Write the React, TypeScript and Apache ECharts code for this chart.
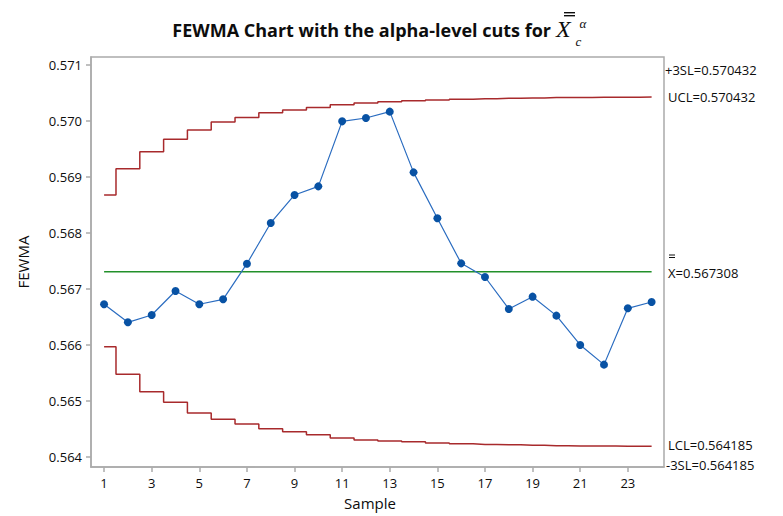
import React, { useEffect, useRef } from "react";
import * as echarts from "echarts";

const samples = [1, 2, 3, 4, 5, 6, 7, 8, 9, 10, 11, 12, 13, 14, 15, 16, 17, 18, 19, 20, 21, 22, 23, 24];
const fewma = [
  0.566727, 0.566405, 0.566536, 0.566964, 0.566727, 0.566816, 0.567452, 0.568179,
  0.568679, 0.568833, 0.569994, 0.570054, 0.570167, 0.569083, 0.568262, 0.567458,
  0.567214, 0.566643, 0.566863, 0.566524, 0.566, 0.565649, 0.566655, 0.566768,
];
const ucl = [
  0.568679, 0.569149, 0.569452, 0.569673, 0.569839, 0.569982, 0.570064, 0.570149,
  0.570195, 0.57024, 0.57029, 0.570321, 0.570343, 0.570362, 0.570375, 0.57039,
  0.570398, 0.570405, 0.57041, 0.570418, 0.570421, 0.570424, 0.570426, 0.570428,
];
const lcl = [
  0.56597, 0.565476, 0.565167, 0.564976, 0.564786, 0.564673, 0.564589, 0.564506,
  0.564452, 0.564399, 0.564339, 0.564304, 0.564286, 0.56427, 0.56425, 0.564235,
  0.564225, 0.564218, 0.56421, 0.564202, 0.564198, 0.564195, 0.564192, 0.56419,
];
const centerLine = 0.567308;
const yTicks = [0.564, 0.565, 0.566, 0.567, 0.568, 0.569, 0.57, 0.571];
const xTicks = [1, 3, 5, 7, 9, 11, 13, 15, 17, 19, 21, 23];
const rightLabels = [
  { text: "+3SL=0.570432", x: 665, y: 70 },
  { text: "UCL=0.570432", x: 668, y: 97 },
  { text: "LCL=0.564185", x: 668, y: 445 },
  { text: "-3SL=0.564185", x: 666, y: 465 },
];
const clLabel = "X=0.567308";
const titleText = "FEWMA Chart with the alpha-level cuts for";

const FONT = "'Open Sans', 'Noto Sans', sans-serif";
const SERIF = "'Liberation Serif', 'DejaVu Serif', serif";
const RED = "#a82a2c";
const GREEN = "#22902a";
const BLUE = "#0852a4";
const GRAY = "#ababab";
const INK = "#0d0d0d";

export default function App() {
  const ref = useRef<HTMLDivElement>(null);
  useEffect(() => {
    document.body.style.margin = "0";
    const chart = echarts.init(ref.current!, null, { renderer: "svg" });
    const pair = (arr: number[]) => samples.map((s, i) => [s, arr[i]]);
    chart.setOption({
      animation: false,
      backgroundColor: "#ffffff",
      grid: {
        left: 91,
        top: 57,
        right: 119,
        bottom: 49,
        show: true,
        borderColor: GRAY,
        borderWidth: 1.5,
        backgroundColor: "transparent",
      },
      xAxis: {
        type: "value",
        min: 0.45,
        max: 24.52,
        splitLine: { show: false },
        axisLine: { show: true, lineStyle: { color: GRAY, width: 1.5 } },
        axisTick: { show: true, length: 5, customValues: xTicks, lineStyle: { color: GRAY, width: 1.5 } },
        axisLabel: {
          customValues: xTicks,
          margin: 9,
          color: INK,
          fontFamily: FONT,
          fontSize: 13,
        },
      },
      yAxis: {
        type: "value",
        min: 0.563821,
        max: 0.571143,
        splitLine: { show: false },
        axisLine: { show: true, lineStyle: { color: GRAY, width: 1.5 } },
        axisTick: { show: true, length: 5, customValues: yTicks, lineStyle: { color: GRAY, width: 1.5 } },
        axisLabel: {
          customValues: yTicks,
          margin: 9,
          color: INK,
          fontFamily: FONT,
          fontSize: 13,
          formatter: (v: number) => v.toFixed(3),
        },
      },
      series: [
        {
          type: "line",
          data: pair(ucl),
          step: "middle",
          symbol: "none",
          lineStyle: { color: RED, width: 1.5 },
          z: 2,
        },
        {
          type: "line",
          data: pair(lcl),
          step: "middle",
          symbol: "none",
          lineStyle: { color: RED, width: 1.5 },
          z: 2,
        },
        {
          type: "line",
          data: [
            [samples[0], centerLine],
            [samples[samples.length - 1], centerLine],
          ],
          symbol: "none",
          lineStyle: { color: GREEN, width: 1.5 },
          z: 2,
        },
        {
          type: "line",
          data: pair(fewma),
          symbol: "circle",
          symbolSize: 8,
          itemStyle: { color: BLUE },
          lineStyle: { color: "#2a6cc0", width: 1.2 },
          z: 3,
        },
      ],
      graphic: [
        {
          type: "text",
          x: 551,
          y: 30,
          style: {
            text: titleText,
            align: "right",
            verticalAlign: "middle",
            fontFamily: FONT,
            fontWeight: "bold",
            fontSize: 18,
            fill: INK,
          },
        },
        {
          type: "text",
          x: 556,
          y: 29,
          style: {
            text: "X",
            align: "left",
            verticalAlign: "middle",
            fontFamily: SERIF,
            fontStyle: "italic",
            fontSize: 24,
            fill: INK,
          },
        },
        { type: "line", shape: { x1: 564, y1: 12.7, x2: 575, y2: 12.7 }, style: { stroke: INK, lineWidth: 1.4 } },
        { type: "line", shape: { x1: 564, y1: 15.7, x2: 575, y2: 15.7 }, style: { stroke: INK, lineWidth: 1.4 } },
        {
          type: "text",
          x: 575.5,
          y: 41.5,
          style: {
            text: "c",
            align: "left",
            verticalAlign: "middle",
            fontFamily: SERIF,
            fontStyle: "italic",
            fontSize: 13,
            fill: INK,
          },
        },
        {
          type: "text",
          x: 579.5,
          y: 23.5,
          style: {
            text: "α",
            align: "left",
            verticalAlign: "middle",
            fontFamily: SERIF,
            fontStyle: "italic",
            fontSize: 13,
            fill: INK,
          },
        },
        {
          type: "text",
          x: 23,
          y: 262,
          rotation: Math.PI / 2,
          style: {
            text: "FEWMA",
            align: "center",
            verticalAlign: "middle",
            fontFamily: FONT,
            fontSize: 15,
            fill: INK,
          },
        },
        {
          type: "text",
          x: 370,
          y: 503,
          style: {
            text: "Sample",
            align: "center",
            verticalAlign: "middle",
            fontFamily: FONT,
            fontSize: 15,
            fill: INK,
          },
        },
        ...rightLabels.map((l) => ({
          type: "text",
          x: l.x,
          y: l.y,
          style: {
            text: l.text,
            align: "left",
            verticalAlign: "middle",
            fontFamily: FONT,
            fontSize: 13,
            fill: INK,
          },
        })),
        {
          type: "text",
          x: 668,
          y: 273,
          style: {
            text: clLabel,
            align: "left",
            verticalAlign: "middle",
            fontFamily: FONT,
            fontSize: 13,
            fill: INK,
          },
        },
        { type: "line", shape: { x1: 669, y1: 255, x2: 675, y2: 255 }, style: { stroke: INK, lineWidth: 1 } },
        { type: "line", shape: { x1: 669, y1: 257.5, x2: 675, y2: 257.5 }, style: { stroke: INK, lineWidth: 1 } },
      ],
    });
    return () => chart.dispose();
  }, []);
  return <div ref={ref} style={{ width: 783, height: 516 }} />;
}
